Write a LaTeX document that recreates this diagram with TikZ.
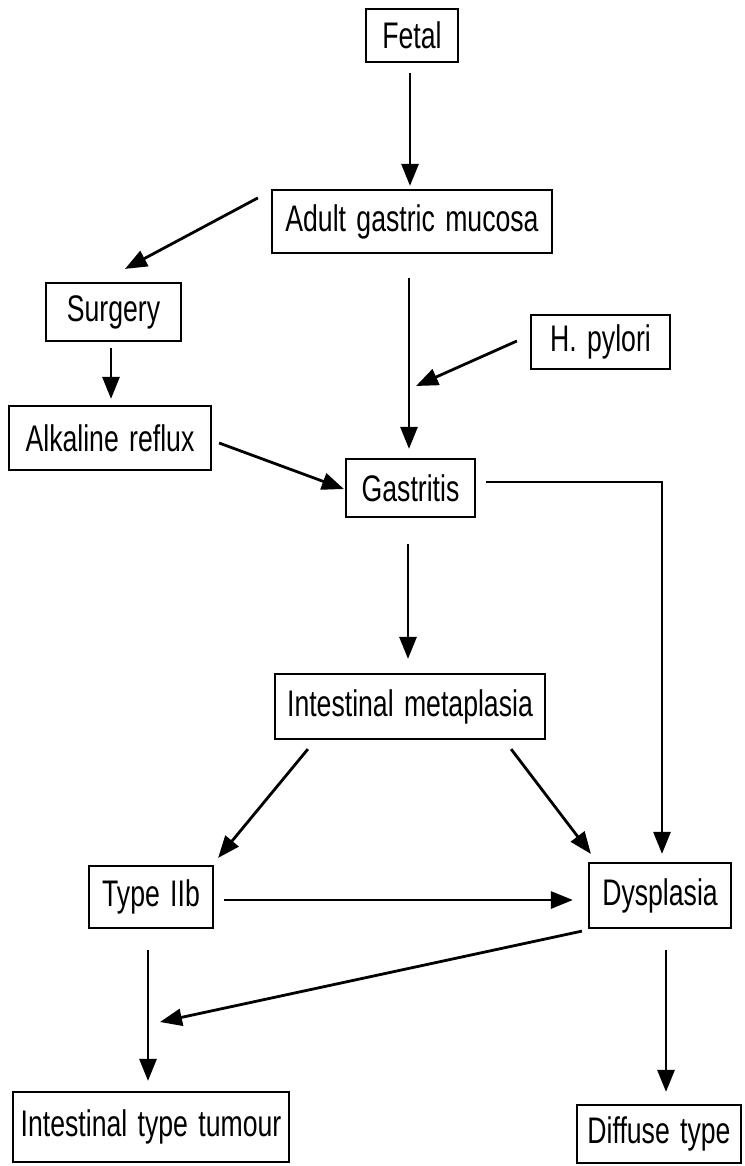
\documentclass[tikz,border=0pt]{standalone}
\usepackage{fontspec}
\setmainfont{Liberation Sans}[FakeStretch=0.72,WordSpace=1.4]
\usepackage{tikz}
\usetikzlibrary{arrows.meta}

\begin{document}
\begin{tikzpicture}[
    x=1pt,y=-1pt,
    box/.style={draw, line width=2.2pt, inner sep=0pt, font=\fontsize{37}{42}\selectfont},
    arr/.style={line width=2.8pt, -{Triangle[length=22pt,width=17pt]}}
    ]
    \useasboundingbox (0,0) rectangle (744,1166);
    \node[box, minimum width=92pt, minimum height=53pt] (fetal) at (412,35.5) {Fetal};
    \node[box, minimum width=280pt, minimum height=63pt] (adult) at (412,221.5) {Adult gastric mucosa};
    \node[box, minimum width=135pt, minimum height=58pt] (surgery) at (113.5,312) {Surgery};
    \node[box, minimum width=139pt, minimum height=54pt] (hpylori) at (600.5,342) {H. pylori};
    \node[box, minimum width=202pt, minimum height=64pt] (alkaline) at (110,438) {Alkaline reflux};
    \node[box, minimum width=129pt, minimum height=58pt] (gastritis) at (410.5,488) {Gastritis};
    \node[box, minimum width=270pt, minimum height=65pt] (metaplasia) at (410,706.5) {Intestinal metaplasia};
    \node[box, minimum width=124pt, minimum height=62pt] (typeiib) at (151,897) {Type IIb};
    \node[box, minimum width=142pt, minimum height=65pt] (dysplasia) at (660,895.5) {Dysplasia};
    \node[box, minimum width=276pt, minimum height=70pt] (tumour) at (151,1127) {Intestinal type tumour};
    \node[box, minimum width=164pt, minimum height=58pt] (diffuse) at (659,1134) {Diffuse type};
    \coordinate (hpend) at (416,386);
    \coordinate (dysend) at (160,1022);
    \draw[arr] ([xshift=-2pt,yshift=-10pt]fetal.south) -- ([xshift=-2pt,yshift=3pt]adult.north);
    \draw[arr] ([xshift=-13pt,yshift=-9pt]adult.north west) -- ([xshift=11.5pt,yshift=13pt]surgery.north);
    \draw[arr] ([xshift=-3pt,yshift=-24pt]adult.south) -- ([xshift=-1.5pt,yshift=9pt]gastritis.north);
    \draw[arr] ([xshift=-13pt,yshift=1pt]hpylori.west) -- (hpend);
    \draw[arr] ([xshift=-2.5pt,yshift=-6pt]surgery.south) -- ([xshift=1pt,yshift=6pt]alkaline.north);
    \draw[arr] ([xshift=7pt,yshift=-5pt]alkaline.east) -- ([xshift=-1pt,yshift=-1pt]gastritis.west);
    \draw[arr] ([xshift=10pt,yshift=6pt]gastritis.east) -| ([xshift=2pt,yshift=8pt]dysplasia.north);
    \draw[arr] ([xshift=-2.5pt,yshift=-26pt]gastritis.south) -- ([xshift=-2pt,yshift=14pt]metaplasia.north);
    \draw[arr] ([xshift=34pt,yshift=-9pt]metaplasia.south west) -- ([xshift=4pt,yshift=7pt]typeiib.north east);
    \draw[arr] ([xshift=-35pt,yshift=-9pt]metaplasia.south east) -- ([xshift=3pt,yshift=8pt]dysplasia.north west);
    \draw[arr] ([xshift=10pt,yshift=-3pt]typeiib.east) -- ([xshift=-15pt,yshift=-4.5pt]dysplasia.west);
    \draw[arr] ([xshift=-6pt,yshift=-2pt]dysplasia.south west) -- (dysend);
    \draw[arr] ([xshift=-3pt,yshift=-21pt]typeiib.south) -- ([xshift=-3pt,yshift=10pt]tumour.north);
    \draw[arr] ([xshift=6pt,yshift=-21pt]dysplasia.south) -- ([xshift=7pt,yshift=12pt]diffuse.north);
  \end{tikzpicture}
\end{document}
